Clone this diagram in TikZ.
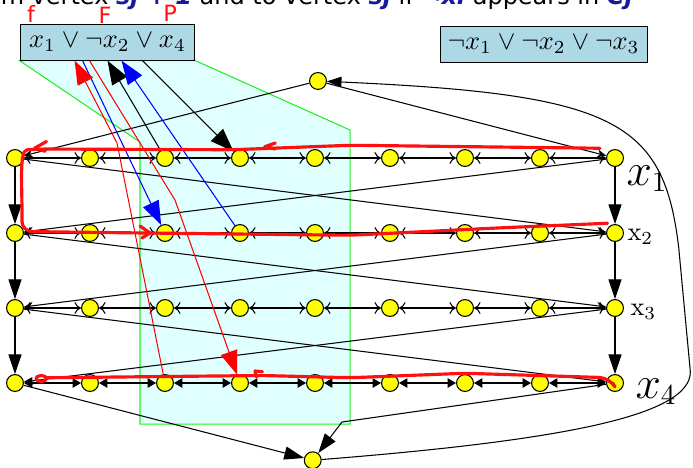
\documentclass[tikz,border=0pt]{standalone}
\usepackage{fontspec}
\usetikzlibrary{arrows.meta, calc, backgrounds}
\newfontfamily\titlefont{DejaVu Sans}
\definecolor{satyellow}{HTML}{FFFF00}
\definecolor{clauseblue}{HTML}{ADD8E6}
\definecolor{shadecyan}{HTML}{E0FFFF}
\definecolor{shadegreen}{HTML}{22EE22}
\definecolor{titleblue}{HTML}{1A1A99}
\definecolor{penred}{HTML}{FF1010}

\begin{document}
\begin{tikzpicture}[
  vtx/.style={circle, draw, fill=satyellow, inner sep=0pt, minimum size=6.4pt},
  clause/.style={rectangle, draw, fill=clauseblue, minimum height=0.47cm, inner sep=2pt},
  hedge/.style={{To[length=2.5pt,width=4.5pt]}-{To[length=2.5pt,width=4.5pt]}},
  hedgefill/.style={{Triangle[length=3.2pt,width=3.6pt]}-{Triangle[length=3.2pt,width=3.6pt]}},
  vedge/.style={-{Triangle[length=7.5pt,width=5pt]}},
  dedge/.style={-{Stealth[length=3.5pt,width=3pt]}},
  litedge/.style={-{Triangle[length=9pt,width=6.5pt]}},
  redpen/.style={draw=penred, line width=1.2pt, line cap=round, line join=round},
  penletter/.style={text=penred, inner sep=0pt, font=\titlefont\fontsize{8.5}{10}\selectfont},
]

% frame
\useasboundingbox (-0.2,-4.1333) rectangle (9.04,2.1067);

% title line, cut off by the frame
\node[anchor=base west, inner sep=0, font=\titlefont\fontsize{9.1}{11}\selectfont] (title) at (-0.63,2.04)
  {from vertex \textcolor{titleblue}{\bfseries\itshape sj + 1} and to vertex \textcolor{titleblue}{\bfseries\itshape sj} if \textcolor{titleblue}{\bfseries\itshape ¬xi} appears in \textcolor{titleblue}{\bfseries\itshape Cj}};

% clauses
\node[clause, minimum width=2.33cm] (C1) at (1.233,1.54) {$x_1 \vee \neg x_2 \vee x_4$};
\node[clause, minimum width=2.76cm] (C2) at (7.047,1.513) {$\neg x_1 \vee \neg x_2 \vee \neg x_3$};

% variable rows
\foreach \r in {1,...,4}
  \foreach \c in {0,...,8}
    \node[vtx] (v\r\c) at (\c,1-\r) {};
\node[vtx] (s) at (4.04,1.027) {};
\node[vtx] (t) at (3.97,-4.03) {};

% row labels
\node[anchor=north west, inner sep=0, font=\fontsize{16}{18}\selectfont] (lx1) at (8.147,-0.093) {$x_1$};
\node[anchor=base west, inner sep=0] (lx2) at (8.16,-1.1) {x$_2$};
\node[anchor=base west, inner sep=0] (lx3) at (8.2,-2.1) {x$_3$};
\node[anchor=north west, inner sep=0, font=\fontsize{16}{18}\selectfont] (lx4) at (8.267,-2.933) {$x_4$};

% chains
\foreach \r in {1,2,3}
  \foreach \c [count=\n] in {0,...,7}
    \draw[hedge] (v\r\c) -- (v\r\n);
\foreach \c [count=\n] in {0,...,7}
  \draw[hedgefill] (v4\c) -- (v4\n);

% between rows
\foreach \r [count=\n from 2] in {1,2,3} {
  \draw[vedge] (v\r0) -- (v\n0);
  \draw[vedge] (v\r8) -- (v\n8);
  \draw[dedge] (v\r0) -- (v\n8);
  \draw[dedge] (v\r8) -- (v\n0);
}

% start and end
\draw[dedge] (s) -- (v10);
\draw[dedge] (s) -- (v18);
\draw[vedge] (v40) -- (t);
\coordinate (kink) at (4.36,-3.52);
\draw[vedge] (v48) -- (kink) -- (t);
\draw[-{Triangle[length=5.5pt,width=4pt]}] (t) .. controls (7.5,-3.75) and (9.1,-3.4) .. (9.0,-2.8)
  -- (8.85,-1.2) .. controls (8.65,0.5) and (8.0,0.85) .. (s);

% clause C1 edges
\coordinate (x4in) at ([xshift=0.733cm]C1.south west);
\coordinate (x2out) at ([xshift=0.84cm]C1.south west);
\coordinate (x4out) at ([xshift=0.933cm]C1.south west);
\coordinate (x1in) at ([xshift=1.173cm]C1.south west);
\coordinate (x2in) at ([xshift=1.36cm]C1.south west);
\coordinate (x1out) at ([xshift=1.64cm]C1.south west);
\coordinate (bendA) at (1.36,0.2);
\coordinate (bendB) at (2.133,-0.56);
\draw[litedge] (v12) -- (x1in);
\draw[litedge] (x1out) -- (v13);
\draw[litedge, blue] (v23) -- (x2in);
\draw[litedge, blue] (x2out) -- (v22);
\draw[litedge, red] (v42) -- (bendA) -- (x4in);
\draw[litedge, red] (x4out) -- (bendB) -- (v43);

% clause region
\begin{scope}[on background layer]
  \fill[shadecyan, draw=shadegreen] (C1.south west) -- (1.667,0.213) -- (1.667,-3.547)
    -- (4.467,-3.547) -- (4.467,0.373) -- (C1.south east) -- cycle;
\end{scope}

% pen marks
\node[penletter, anchor=south] (pf) at (0.213,1.80) {f};
\node[penletter, anchor=south] (pF) at (1.2,1.79) {F};
\node[penletter, anchor=south] (pP) at (2.067,1.81) {P};
\draw[redpen, rounded corners=4pt] (7.8,0.13) -- (4.47,0.17) -- (2.9,0.11) -- (0.3,0.12)
  .. controls (0.05,0.1) and (0.1,-0.4) .. (0.09,-0.98) -- (1.73,-1.0) -- (4.47,-1.03)
  -- (6.5,-0.93) -- (7.9,-0.87);
\draw[redpen] (0.42,0.22) -- (0.26,0.13) -- (0.4,0.09);
\draw[redpen] (3.47,0.2) -- (3.33,0.15) -- (3.47,0.12);
\draw[redpen] (1.667,-0.907) -- (1.8,-1.0) -- (1.693,-1.067);
\draw[redpen, rounded corners=4pt] (7.97,-3.0) -- (7.93,-2.93) -- (6.0,-2.87) -- (4.47,-2.93)
  -- (3.3,-2.9) -- (0.42,-2.93);
\draw[redpen] (3.22,-2.92) -- (3.2,-2.84) -- (3.3,-2.85);
\draw[redpen] (0.35,-2.94) ellipse (0.07 and 0.04);

\end{tikzpicture}
\end{document}
